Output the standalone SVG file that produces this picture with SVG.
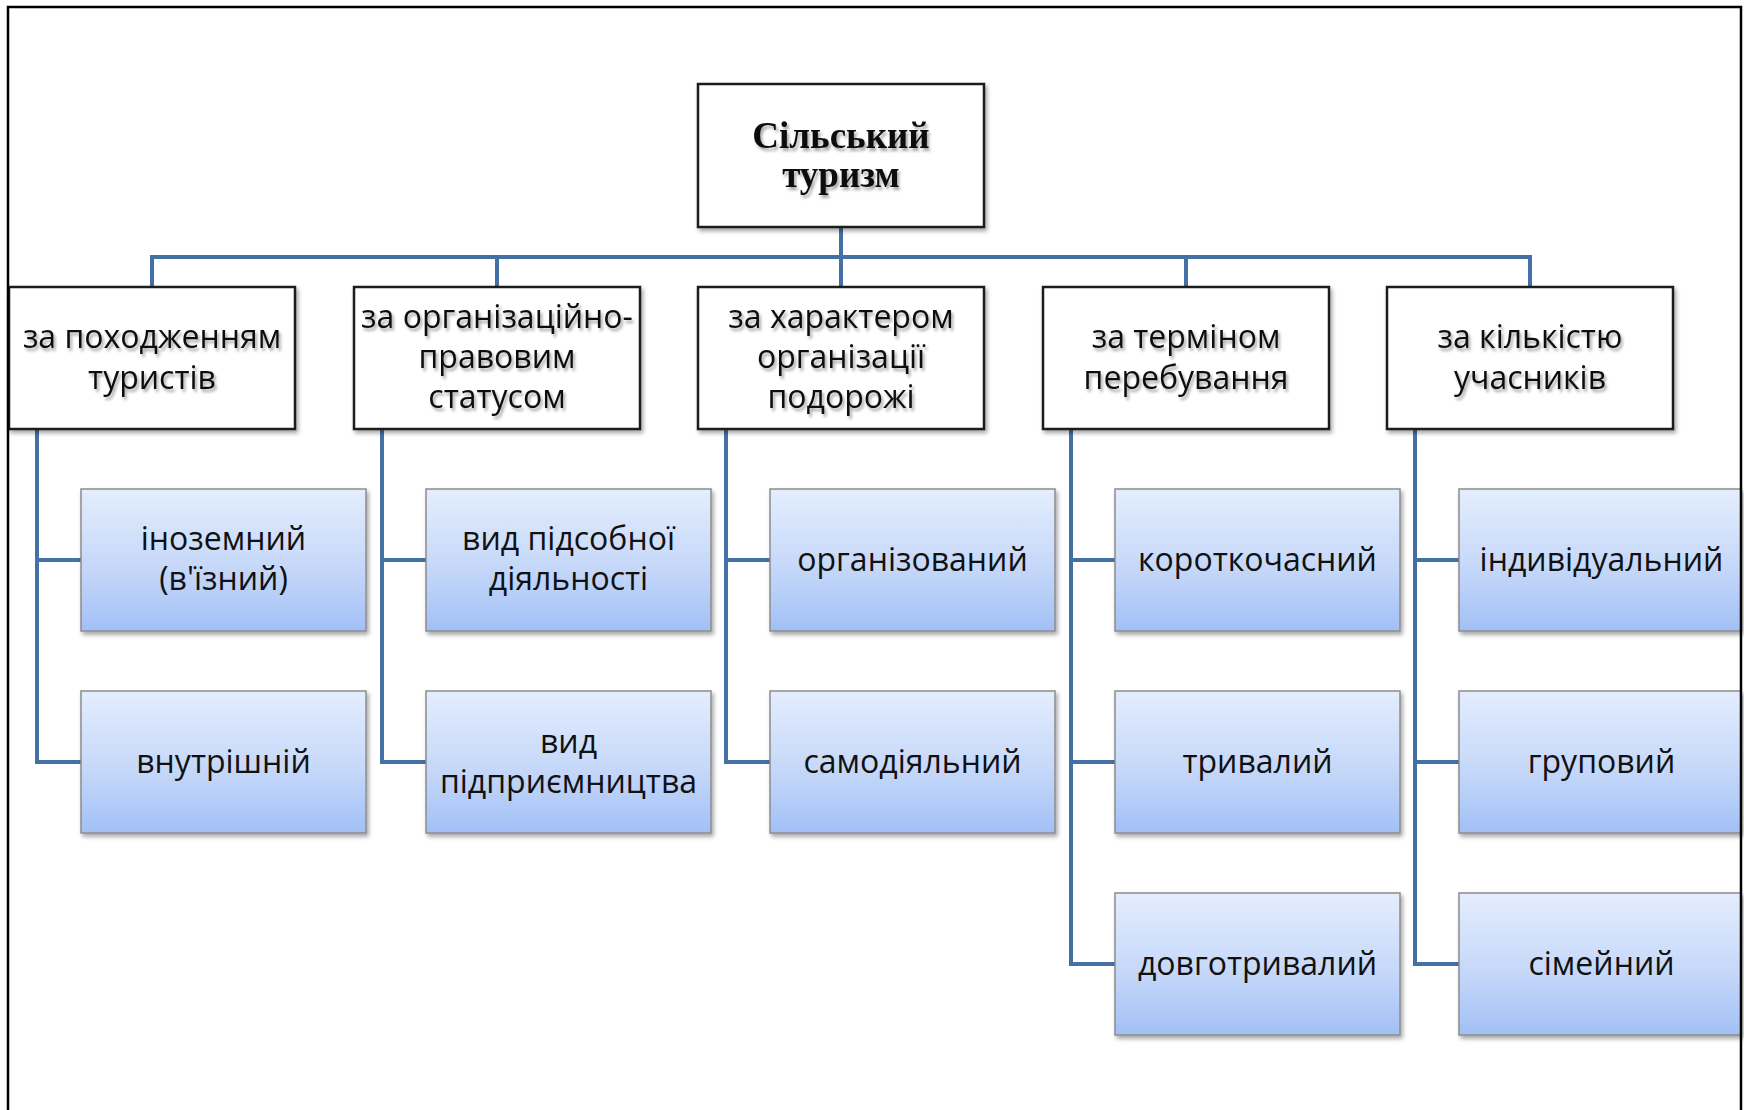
<svg xmlns="http://www.w3.org/2000/svg" width="1744" height="1110" viewBox="0 0 1744 1110">
<defs>
<linearGradient id="leafGrad" x1="0" y1="0" x2="0" y2="1">
<stop offset="0" stop-color="#e3edfd"/>
<stop offset="0.55" stop-color="#c6d8f9"/>
<stop offset="1" stop-color="#a2c0f6"/>
</linearGradient>
<filter id="boxShadow" x="-5%" y="-5%" width="115%" height="120%">
<feGaussianBlur in="SourceAlpha" stdDeviation="2"/>
<feOffset dx="2" dy="3" result="b"/>
<feFlood flood-color="#000" flood-opacity="0.35"/>
<feComposite in2="b" operator="in"/>
<feMerge><feMergeNode/><feMergeNode in="SourceGraphic"/></feMerge>
</filter>
<filter id="textShadow" x="-10%" y="-20%" width="120%" height="150%">
<feGaussianBlur in="SourceAlpha" stdDeviation="1.6"/>
<feOffset dx="2" dy="3" result="b"/>
<feFlood flood-color="#000" flood-opacity="0.35"/>
<feComposite in2="b" operator="in"/>
<feMerge><feMergeNode/><feMergeNode in="SourceGraphic"/></feMerge>
</filter>
</defs>
<style>
.cat{fill:#fff;stroke:#1a1a1a;stroke-width:2.5;filter:url(#boxShadow)}
.leaf{fill:url(#leafGrad);stroke:#8c8c8c;stroke-width:1.5;filter:url(#boxShadow)}
.conn{fill:none;stroke:#4470a6;stroke-width:4;stroke-linejoin:miter}
.t{font-family:"Open Sans","Noto Sans","DejaVu Sans",sans-serif;font-size:32px;fill:#111;text-anchor:middle}
.ts{filter:url(#textShadow)}
.root{font-family:"Liberation Serif","Times New Roman",serif;font-weight:bold;font-size:37px;fill:#111;text-anchor:middle;filter:url(#textShadow)}
</style>
<rect x="0" y="0" width="1744" height="1110" fill="#fff"/>
<g id="connectors">
<path class="conn" d="M841,227 V286"/>
<path class="conn" d="M152,286 V257 H1530 V286"/>
<path class="conn" d="M497,257 V286 M1186,257 V286"/>
<path class="conn" d="M37,429 V762 H81 M37,560 H81"/>
<path class="conn" d="M382,429 V762 H426 M382,560 H426"/>
<path class="conn" d="M726,429 V762 H770 M726,560 H770"/>
<path class="conn" d="M1071,429 V964 H1115 M1071,560 H1115 M1071,762 H1115"/>
<path class="conn" d="M1415,429 V964 H1459 M1415,560 H1459 M1415,762 H1459"/>
</g>
<g id="root">
<rect class="cat" x="698" y="84" width="286" height="143"/>
<text class="root" x="841" y="148">Сільський</text>
<text class="root" x="841" y="187">туризм</text>
</g>
<g id="cat1">
<rect class="cat" x="9" y="287" width="286" height="142"/>
<text class="t ts" x="152" y="348">за походженням</text>
<text class="t ts" x="152" y="389">туристів</text>
</g>
<g id="cat2">
<rect class="cat" x="354" y="287" width="286" height="142"/>
<text class="t ts" x="497" y="328">за організаційно-</text>
<text class="t ts" x="497" y="368">правовим</text>
<text class="t ts" x="497" y="408">статусом</text>
</g>
<g id="cat3">
<rect class="cat" x="698" y="287" width="286" height="142"/>
<text class="t ts" x="841" y="328">за характером</text>
<text class="t ts" x="841" y="368">організації</text>
<text class="t ts" x="841" y="408">подорожі</text>
</g>
<g id="cat4">
<rect class="cat" x="1043" y="287" width="286" height="142"/>
<text class="t ts" x="1186" y="348">за терміном</text>
<text class="t ts" x="1186" y="389">перебування</text>
</g>
<g id="cat5">
<rect class="cat" x="1387" y="287" width="286" height="142"/>
<text class="t ts" x="1530" y="348">за кількістю</text>
<text class="t ts" x="1530" y="389">учасників</text>
</g>
<g id="leaf1a">
<rect class="leaf" x="81" y="489" width="285" height="142"/>
<text class="t" x="223.5" y="550">іноземний</text>
<text class="t" x="223.5" y="590">(в'їзний)</text>
</g>
<g id="leaf1b">
<rect class="leaf" x="81" y="691" width="285" height="142"/>
<text class="t" x="223.5" y="773">внутрішній</text>
</g>
<g id="leaf2a">
<rect class="leaf" x="426" y="489" width="285" height="142"/>
<text class="t" x="568.5" y="550">вид підсобної</text>
<text class="t" x="568.5" y="590">діяльності</text>
</g>
<g id="leaf2b">
<rect class="leaf" x="426" y="691" width="285" height="142"/>
<text class="t" x="568.5" y="753">вид</text>
<text class="t" x="568.5" y="793">підприємництва</text>
</g>
<g id="leaf3a">
<rect class="leaf" x="770" y="489" width="285" height="142"/>
<text class="t" x="912.5" y="571">організований</text>
</g>
<g id="leaf3b">
<rect class="leaf" x="770" y="691" width="285" height="142"/>
<text class="t" x="912.5" y="773">самодіяльний</text>
</g>
<g id="leaf4a">
<rect class="leaf" x="1115" y="489" width="285" height="142"/>
<text class="t" x="1257.5" y="571">короткочасний</text>
</g>
<g id="leaf4b">
<rect class="leaf" x="1115" y="691" width="285" height="142"/>
<text class="t" x="1257.5" y="773">тривалий</text>
</g>
<g id="leaf4c">
<rect class="leaf" x="1115" y="893" width="285" height="142"/>
<text class="t" x="1257.5" y="975">довготривалий</text>
</g>
<g id="leaf5a">
<rect class="leaf" x="1459" y="489" width="282" height="142"/>
<text class="t" x="1601.5" y="571">індивідуальний</text>
</g>
<g id="leaf5b">
<rect class="leaf" x="1459" y="691" width="282" height="142"/>
<text class="t" x="1601.5" y="773">груповий</text>
</g>
<g id="leaf5c">
<rect class="leaf" x="1459" y="893" width="282" height="142"/>
<text class="t" x="1601.5" y="975">сімейний</text>
</g>
<path d="M8,1110 V7 H1741 V1110" fill="none" stroke="#000" stroke-width="2.5"/>
</svg>
